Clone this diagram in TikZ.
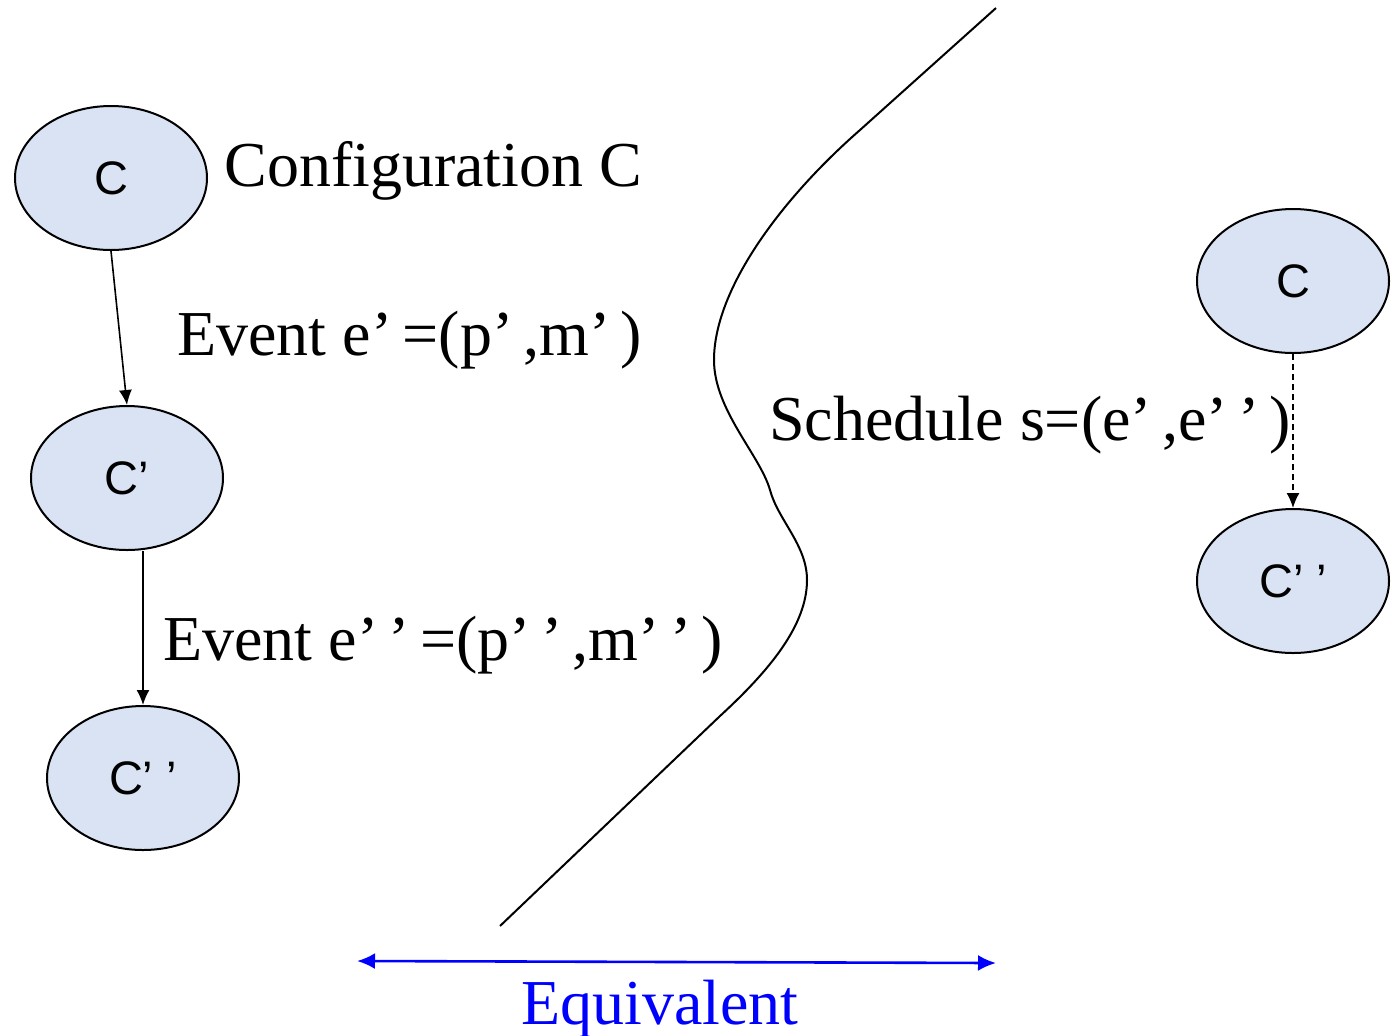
\documentclass[tikz,border=0pt]{standalone}
\usepackage{fontspec}
\setmainfont{Liberation Serif}
\setsansfont{Liberation Sans}
\usepackage{xcolor}
\usetikzlibrary{shapes.geometric,arrows.meta}
\definecolor{stateFill}{RGB}{218, 227, 243}
\definecolor{eqBlue}{RGB}{0, 0, 255}
% prime mark followed by a narrow gap
\newcommand{\pq}{’\kern0.16em}

\begin{document}
\begin{tikzpicture}[x=0.5pt, y=-0.5pt, >={Latex[length=7.5pt,width=6.5pt]}]

  % Page frame (pixel grid of the slide, y grows downwards)
  \useasboundingbox (0,0) rectangle (1392,1035);

  % Helper styles for states and captions
  \tikzset{
    state/.style={
      ellipse, draw=black, line width=1pt, fill=stateFill,
      minimum width=96pt, minimum height=72pt, inner sep=0pt,
      font=\sffamily\fontsize{23.5}{28}\selectfont
    },
    caption/.style={
      anchor=base west, inner sep=0pt,
      font=\fontsize{32}{38}\selectfont
    }
  }

  % --- Left side: two single events ---
  \node[state] (cA)   at (111,178) {C};
  \node[state] (cB)   at (127,478) {C’};
  \node[state] (cC)   at (143,778) {C’ ’};

  \draw[->, line width=0.8pt] (cA.south) -- (cB.north);
  \draw[->, line width=0.8pt] (cB.south -| cC.north) -- (cC.north);

  \node[caption] (lblConf) at (224,186) {Configuration C};
  \node[caption] (lblEvA)  at (177,355) {Event e\pq=(p\pq,m\pq)};
  \node[caption] (lblEvB)  at (163,660) {Event e\pq\pq=(p\pq\pq,m\pq\pq)};

  % --- Separating curve ---
  \draw[line width=1pt] (996,8) -- (860,130)
    .. controls (780,200) and (714,290) .. (714,360)
    .. controls (714,410) and (760,455) .. (770,490)
    .. controls (778,520) and (807,545) .. (807,580)
    .. controls (807,625) and (770,670) .. (720,716)
    -- (500,926);

  % --- Right side: the schedule ---
  \node[state] (sA) at (1293,281) {C};
  \node[state] (sB) at (1293,581) {C’ ’};

  \draw[->, line width=0.8pt, dash pattern=on 3pt off 2pt] (sA) -- (sB);

  \node[caption] (lblSched) at (769,440) {Schedule s=(e\pq,e\pq\pq)};

  % --- Equivalence arrow ---
  \coordinate (eqL) at (357,961);
  \coordinate (eqR) at (996,963);
  \draw[{Latex[length=9pt,width=8pt]}-{Latex[length=9pt,width=8pt]}, eqBlue, line width=1.3pt] (eqL) -- (eqR);
  \node[caption, text=eqBlue] (lblEq) at (521,1024) {Equivalent};

\end{tikzpicture}
\end{document}
